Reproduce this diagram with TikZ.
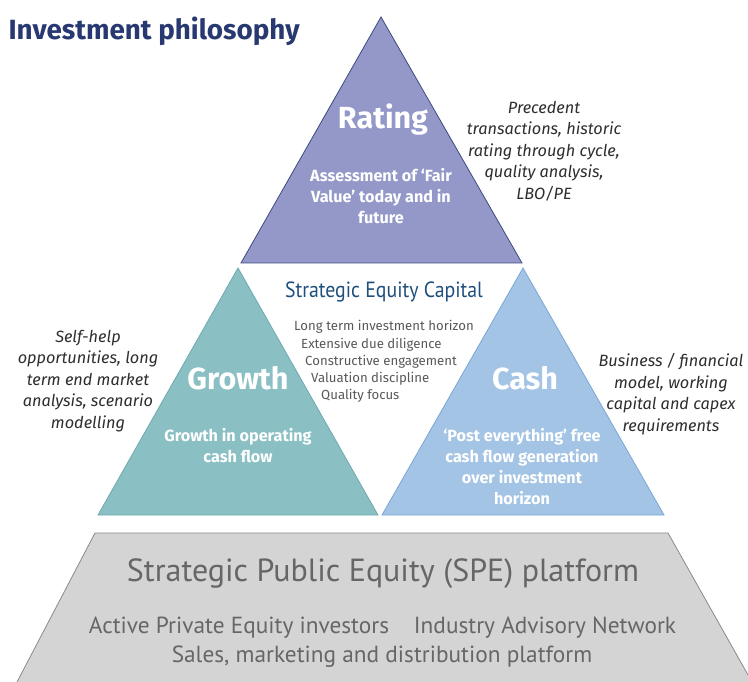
\documentclass[tikz,border=0pt]{standalone}
\usepackage{fontspec}
\setmainfont{Fira Sans}
\newfontfamily\narrowfont{PT Sans}
\usepackage{tikz}

\definecolor{ratingfill}{HTML}{9498C9}
\definecolor{ratingline}{HTML}{3C4A80}
\definecolor{growthfill}{HTML}{8ABFC3}
\definecolor{growthline}{HTML}{6DAAB0}
\definecolor{cashfill}{HTML}{A3C4E4}
\definecolor{cashline}{HTML}{7AA7D6}
\definecolor{platfill}{HTML}{D4D4D4}
\definecolor{platline}{HTML}{8A8A8A}
\definecolor{titlecol}{HTML}{283971}
\definecolor{seccol}{HTML}{1E4F7D}
\definecolor{notecol}{HTML}{2E2E2E}
\definecolor{listcol}{HTML}{595959}
\definecolor{plattext}{HTML}{666666}

\begin{document}
\begin{tikzpicture}[x=1pt,y=-1pt,
    heading/.style = {text=white, font=\fontsize{30.5}{32}\selectfont\bfseries},
    inner/.style = {text=white, align=center, font=\fontsize{16.2}{21}\selectfont\bfseries},
    note/.style = {text=notecol, align=center, font=\fontsize{16.3}{21.5}\selectfont\itshape},
    listitem/.style = {text=listcol, anchor=west, inner sep=0pt, font=\fontsize{13.2}{14}\selectfont},
    plat/.style = {text=plattext, font=\narrowfont\fontsize{23.3}{25}\selectfont}]
        \useasboundingbox (0,0) rectangle (748,682);
        % shapes
        \fill[white] (0,0) rectangle (748,682);
        \draw[ratingline, fill=ratingfill, line width=0.8pt] (381,17) -- (241,263) -- (522,263) -- cycle;
        \draw[growthline, fill=growthfill, line width=0.8pt] (238,268) -- (98,515) -- (378,515) -- cycle;
        \draw[cashline, fill=cashfill, line width=0.8pt] (523,268) -- (382,515) -- (664,515) -- cycle;
        \draw[platline, fill=platfill, line width=0.8pt] (17,682) -- (95,533) -- (668,533) -- (752,682);

        \node[anchor=west, text=titlecol, font=\fontsize{27.8}{29}\selectfont\bfseries] (title) at (5,31) {Investment philosophy};

        % rating
        \node[heading] (rating) at (383,120) {Rating};
        \node[inner] (ratingtxt) at (381,196) {Assessment of `Fair\\Value' today and in\\future};
        \node[note] (ratingnote) at (544,151) {Precedent\\transactions, historic\\rating through cycle,\\quality analysis,\\LBO/PE};

        % growth
        \node[heading] (growth) at (238,378) {Growth};
        \node[inner] (growthtxt) at (238,446) {Growth in operating\\cash flow};
        \node[note] (growthnote) at (88,381) {Self-help\\opportunities, long\\term end market\\analysis, scenario\\modelling};

        % cash
        \node[heading] (cash) at (525,378) {Cash};
        \node[inner] (cashtxt) at (522,467) {`Post everything' free\\cash flow generation\\over investment\\horizon};
        \node[note] (cashnote) at (671,394) {Business / financial\\model, working\\capital and capex\\requirements};

        % centre
        \node[text=seccol, font=\narrowfont\fontsize{22}{24}\selectfont, xscale=0.9] (sec) at (384,292) {Strategic Equity Capital};
        \node[listitem] (l1) at (294,327) {Long term investment horizon};
        \node[listitem] (l2) at (301,345) {Extensive due diligence};
        \node[listitem] (l3) at (305,362) {Constructive engagement};
        \node[listitem] (l4) at (311,379) {Valuation discipline};
        \node[listitem] (l5) at (321,396) {Quality focus};

        % platform
        \node[plat, font=\narrowfont\fontsize{32}{34}\selectfont] (spe) at (383,574) {Strategic Public Equity (SPE) platform};
        \node[plat] (pe) at (239,628) {Active Private Equity investors};
        \node[plat] (ian) at (545,628) {Industry Advisory Network};
        \node[plat] (sales) at (382,657) {Sales, marketing and distribution platform};
      \end{tikzpicture}
\end{document}
